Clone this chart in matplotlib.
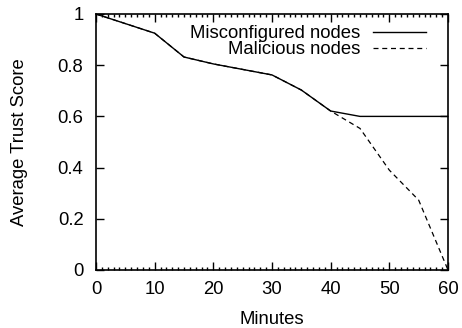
import matplotlib
matplotlib.use("Agg")
import matplotlib.pyplot as plt
from matplotlib.ticker import MultipleLocator

plt.rcParams['font.family'] = ['Liberation Sans', 'DejaVu Sans']

minutes = [0, 10, 15, 20, 30, 35, 40, 45, 50, 55, 60]
misconfigured = [1.0, 0.925, 0.832, 0.805, 0.762, 0.703, 0.621, 0.600, 0.600, 0.600, 0.600]
malicious_min = [40, 45, 50, 55, 60]
malicious = [0.621, 0.553, 0.39, 0.273, 0.0]
# the malicious curve follows the misconfigured one until minute 40
malicious_full_x = minutes[:6] + malicious_min
malicious_full_y = misconfigured[:6] + malicious

FS = 13.3

fig = plt.figure(figsize=(4.62, 3.28), dpi=100)
ax = fig.add_axes([96/462, 58/328, 352/462, 256/328])

ax.plot(minutes, misconfigured, 'k-', lw=1.0, label='Misconfigured nodes')
ax.plot(malicious_full_x, malicious_full_y, 'k--', lw=0.9, dashes=(4, 3),
        label='Malicious nodes')

ax.set_xlim(0, 60)
ax.set_ylim(0, 1)
ax.xaxis.set_major_locator(MultipleLocator(10))
ax.xaxis.set_minor_locator(MultipleLocator(1))
ax.set_yticks([0, 0.2, 0.4, 0.6, 0.8, 1.0])
ax.set_yticklabels(['0', '0.2', '0.4', '0.6', '0.8', '1'])

ax.tick_params(which='both', direction='in', top=True, right=True,
               labelsize=FS, width=1.0)
ax.tick_params(axis='x', which='major', length=5.5, pad=8)
ax.tick_params(axis='x', which='minor', length=2.5)
ax.tick_params(axis='y', which='major', length=5.5, pad=9)
for s in ax.spines.values():
    s.set_linewidth(1.2)

ax.set_xlabel('Minutes', fontsize=FS, labelpad=9)
ax.set_ylabel('Average Trust Score', fontsize=FS, labelpad=21)

leg = ax.legend(loc='upper right', frameon=False, fontsize=FS,
                markerfirst=False, handlelength=2.85, handletextpad=0.7,
                borderaxespad=0, borderpad=0, labelspacing=-0.03,
                bbox_to_anchor=(426/462, 1 - 25/328),
                bbox_transform=fig.transFigure)
for t in leg.get_texts():
    t.set_ha('right')

fig.savefig('out.png', dpi=100)
